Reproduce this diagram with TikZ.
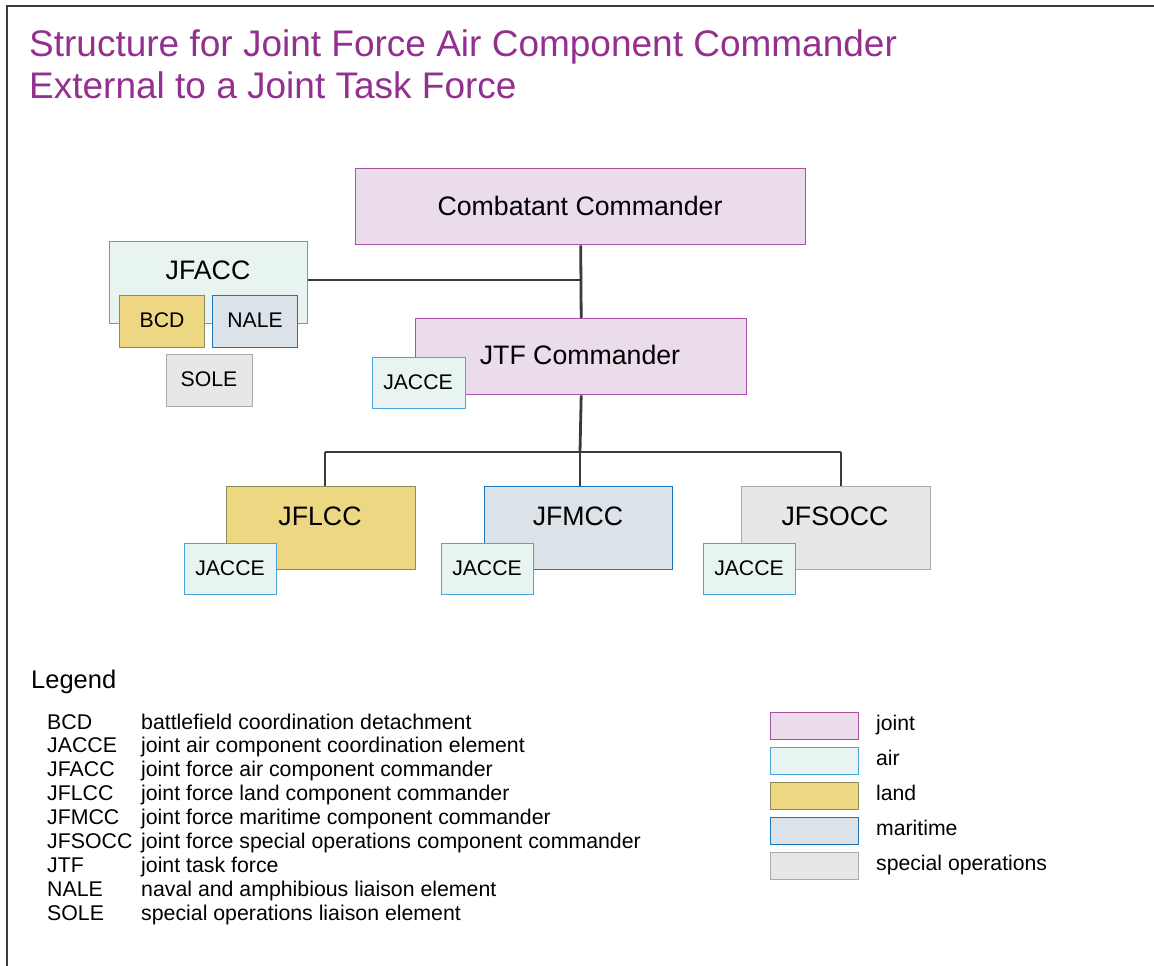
\documentclass[tikz,border=0pt]{standalone}
\usepackage{fontspec}
\setmainfont{Liberation Sans}
\definecolor{titlec}{HTML}{93308F}
\definecolor{jointF}{HTML}{EADCEB}
\definecolor{jointD}{HTML}{A84FA6}
\definecolor{airF}{HTML}{E8F4F2}
\definecolor{airD}{HTML}{4AA6D8}
\definecolor{landF}{HTML}{EDD783}
\definecolor{landD}{HTML}{8E8A5A}
\definecolor{marF}{HTML}{DCE3E8}
\definecolor{marD}{HTML}{1B75BB}
\definecolor{spF}{HTML}{E6E7E8}
\definecolor{spD}{HTML}{A7A9AC}
\definecolor{linec}{HTML}{3A3A3A}
\tikzset{
  box/.style={draw, inner sep=0pt, anchor=north west, line width=1.4pt},
  joint/.style={box, fill=jointF, draw=jointD},
  air/.style={box, fill=airF, draw=airD},
  land/.style={box, fill=landF, draw=landD},
  mar/.style={box, fill=marF, draw=marD},
  sop/.style={box, fill=spF, draw=spD},
  bigtxt/.style={anchor=base, inner sep=0pt, font=\fontsize{26.7}{30}\selectfont},
  smalltxt/.style={anchor=base, inner sep=0pt, font=\fontsize{21.2}{24}\selectfont},
  conn/.style={draw=linec, line width=2.8pt},
  legtxt/.style={anchor=base west, inner sep=0pt, font=\fontsize{21.2}{24}\selectfont},
}
\begin{document}
\begin{tikzpicture}[x=1pt,y=-1pt]
\useasboundingbox (0,0) rectangle (1154,966);
% frame
\draw[draw=linec, line width=2.8pt] (7,970) -- (7,6) -- (1160,6);
% title
\node[anchor=base west, inner sep=0pt, text=titlec, font=\fontsize{37}{41}\selectfont] (title1) at (29,57) {Structure for Joint Force Air Component Commander};
\node[anchor=base west, inner sep=0pt, text=titlec, font=\fontsize{37}{41}\selectfont] (title2) at (29,98) {External to a Joint Task Force};

% boxes (named)
\node[joint, minimum width=450pt, minimum height=76pt] (cc) at (355,168) {};
\node[air, minimum width=198pt, minimum height=82pt] (jfacc) at (109,241) {};
\node[joint, minimum width=331pt, minimum height=76pt] (jtf) at (415,318) {};
\node[land, minimum width=189pt, minimum height=83pt] (jflcc) at (226,486) {};
\node[mar, minimum width=188pt, minimum height=83pt] (jfmcc) at (484,486) {};
\node[sop, minimum width=189pt, minimum height=83pt] (jfsocc) at (741,486) {};

% connectors
\coordinate (bus) at (580,452);
\coordinate (busL) at (325,452);
\coordinate (busR) at (841,452);
\draw[conn] (cc.south) -- (jtf.north);
\draw[conn] (jfacc.east |- 0,280) -- (580,280);
\draw[conn] (jtf.south) -- (bus);
\draw[conn] (busL) -- (busR);
\draw[conn] (busL) -- (busL |- jflcc.north);
\draw[conn] (bus) -- (bus |- jfmcc.north);
\draw[conn] (busR) -- (busR |- jfsocc.north);

% sub boxes
\node[land, minimum width=85pt, minimum height=52pt] (bcd) at (119,295) {};
\node[mar, minimum width=85pt, minimum height=52pt] (nale) at (212,295) {};
\node[sop, minimum width=86pt, minimum height=52pt] (sole) at (166,354) {};
\node[air, minimum width=93pt, minimum height=51pt] (jacce0) at (372,357) {};
\node[air, minimum width=92pt, minimum height=51pt] (jacce1) at (184,543) {};
\node[air, minimum width=92pt, minimum height=51pt] (jacce2) at (441,543) {};
\node[air, minimum width=92pt, minimum height=51pt] (jacce3) at (703,543) {};

% labels
\node[bigtxt] (tcc) at (580,215.5) {Combatant Commander};
\node[bigtxt] (tjfacc) at (208,279.5) {JFACC};
\node[bigtxt] (tjtf) at (580,364) {JTF Commander};
\node[bigtxt] (tjflcc) at (320,525.5) {JFLCC};
\node[bigtxt] (tjfmcc) at (578,525.5) {JFMCC};
\node[bigtxt] (tjfsocc) at (835,525.5) {JFSOCC};
\node[smalltxt] (tbcd) at (162,327) {BCD};
\node[smalltxt] (tnale) at (255,327) {NALE};
\node[smalltxt] (tsole) at (209,386.5) {SOLE};
\node[smalltxt] (tj0) at (418,389) {JACCE};
\node[smalltxt] (tj1) at (230,575) {JACCE};
\node[smalltxt] (tj2) at (487,575) {JACCE};
\node[smalltxt] (tj3) at (749,575) {JACCE};

% legend
\node[anchor=base west, inner sep=0pt, font=\fontsize{25.5}{30}\selectfont] (legend) at (31,688) {Legend};
\node[anchor=base west, inner sep=0pt, font=\fontsize{21.3}{23.9}\selectfont] (leglist) at (47,729)
{\begin{tabular}[t]{@{}p{94pt}@{}l@{}}
BCD & battlefield coordination detachment\\
JACCE & joint air component coordination element\\
JFACC & joint force air component commander\\
JFLCC & joint force land component commander\\
JFMCC & joint force maritime component commander\\
JFSOCC & joint force special operations component commander\\
JTF & joint task force\\
NALE & naval and amphibious liaison element\\
SOLE & special operations liaison element
\end{tabular}};

\node[joint, minimum width=88pt, minimum height=27pt] (sw1) at (770,712) {};
\node[air, minimum width=88pt, minimum height=27pt] (sw2) at (770,747) {};
\node[land, minimum width=88pt, minimum height=27pt] (sw3) at (770,782) {};
\node[mar, minimum width=88pt, minimum height=27pt] (sw4) at (770,817) {};
\node[sop, minimum width=88pt, minimum height=27pt] (sw5) at (770,852) {};
\node[legtxt] (l1) at (876,730) {joint};
\node[legtxt] (l2) at (876,765) {air};
\node[legtxt] (l3) at (876,800) {land};
\node[legtxt] (l4) at (876,835) {maritime};
\node[legtxt] (l5) at (876,870) {special operations};
\end{tikzpicture}
\end{document}
